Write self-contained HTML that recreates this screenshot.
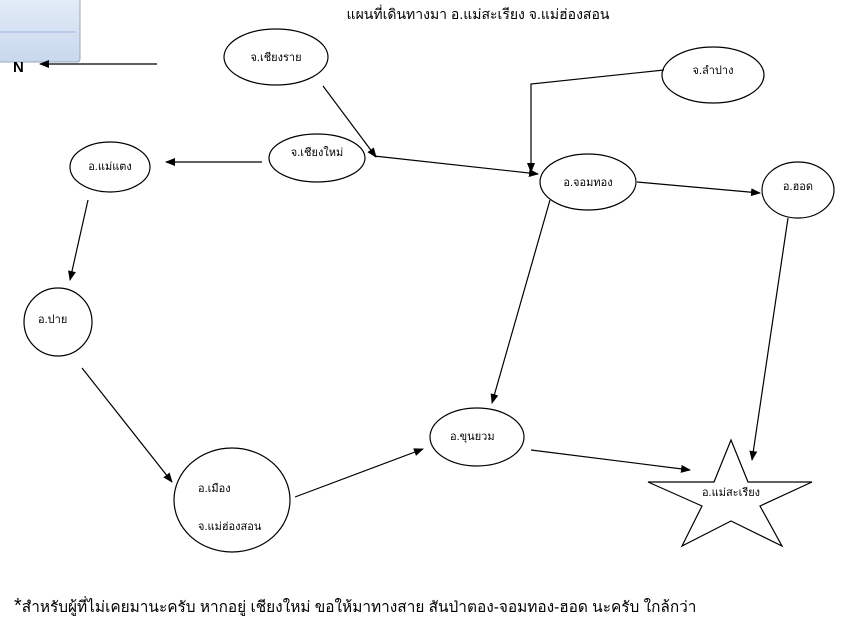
<!DOCTYPE html>
<html><head><meta charset="utf-8"><style>
body{margin:0;background:#fff;width:845px;height:633px;overflow:hidden;font-family:"Liberation Sans","DejaVu Sans",sans-serif}
</style></head><body>
<svg width="845" height="633" viewBox="0 0 845 633" xmlns="http://www.w3.org/2000/svg" font-family="'Liberation Sans','DejaVu Sans',sans-serif">
<defs>
<linearGradient id="g" x1="0" y1="0" x2="0" y2="1"><stop offset="0" stop-color="#e3ecf8"/><stop offset="1" stop-color="#c9d8ee"/></linearGradient>
<marker id="a" markerWidth="10" markerHeight="8" refX="9" refY="4" orient="auto" markerUnits="userSpaceOnUse"><path d="M0,0 L10,4 L0,8 Z" fill="#000"/></marker>
</defs>
<rect x="-2" y="-2" width="82" height="64" rx="3" fill="url(#g)" stroke="#9aa8bb"/>
<line x1="0" y1="32" x2="76" y2="32" stroke="#9bb5dc"/>
<text x="13" y="72" font-size="15" font-weight="bold">N</text>
<text x="478" y="19" font-size="14" text-anchor="middle">แผนที่เดินทางมา อ.แม่สะเรียง จ.แม่ฮ่องสอน</text>
<g fill="none" stroke="#000" stroke-width="1.2">
<ellipse cx="276" cy="57" rx="52" ry="28"/>
<ellipse cx="317" cy="158" rx="48" ry="24"/>
<ellipse cx="110" cy="167" rx="40" ry="25"/>
<ellipse cx="58" cy="322" rx="34" ry="34"/>
<ellipse cx="232" cy="500" rx="58" ry="52"/>
<ellipse cx="477" cy="437" rx="47" ry="29"/>
<ellipse cx="588" cy="182" rx="48" ry="28"/>
<ellipse cx="713" cy="75" rx="51" ry="28"/>
<ellipse cx="798" cy="190" rx="36" ry="28"/>
<polygon points="731,440 748,482 812,482 760,506 782,546 731,521 682,546 702,506 648,482 714,482"/>
</g>
<g stroke="#000" stroke-width="1.2" fill="none" marker-end="url(#a)">
<line x1="157" y1="64" x2="40" y2="64"/>
<line x1="323" y1="86" x2="376" y2="157"/>
<line x1="374" y1="156" x2="538" y2="174"/>
<polyline points="664,70 531,84 531,172"/>
<line x1="262" y1="162" x2="166" y2="162"/>
<line x1="88" y1="200" x2="70" y2="280"/>
<line x1="82" y1="368" x2="172" y2="482"/>
<line x1="295" y1="497" x2="423" y2="449"/>
<line x1="637" y1="182" x2="760" y2="193"/>
<line x1="550" y1="200" x2="492" y2="403"/>
<line x1="531" y1="450" x2="690" y2="470"/>
<line x1="788" y1="218" x2="752" y2="460"/>
</g>
<g font-size="11">
<text x="276" y="61" text-anchor="middle">จ.เชียงราย</text>
<text x="317" y="156" text-anchor="middle">จ.เชียงใหม่</text>
<text x="110" y="170" text-anchor="middle">อ.แม่แตง</text>
<text x="38" y="323">อ.ปาย</text>
<text x="198" y="492">อ.เมือง</text>
<text x="198" y="530">จ.แม่ฮ่องสอน</text>
<text x="450" y="440">อ.ขุนยวม</text>
<text x="588" y="186" text-anchor="middle">อ.จอมทอง</text>
<text x="713" y="74" text-anchor="middle">จ.ลำปาง</text>
<text x="798" y="190" text-anchor="middle">อ.ฮอด</text>
<text x="731" y="496" text-anchor="middle">อ.แม่สะเรียง</text>
</g>
<text x="14" y="612" font-size="15.4"><tspan font-size="20">*</tspan>สำหรับผู้ที่ไม่เคยมานะครับ หากอยู่ เชียงใหม่ ขอให้มาทางสาย สันป่าตอง-จอมทอง-ฮอด นะครับ ใกล้กว่า</text>
</svg>
</body></html>
